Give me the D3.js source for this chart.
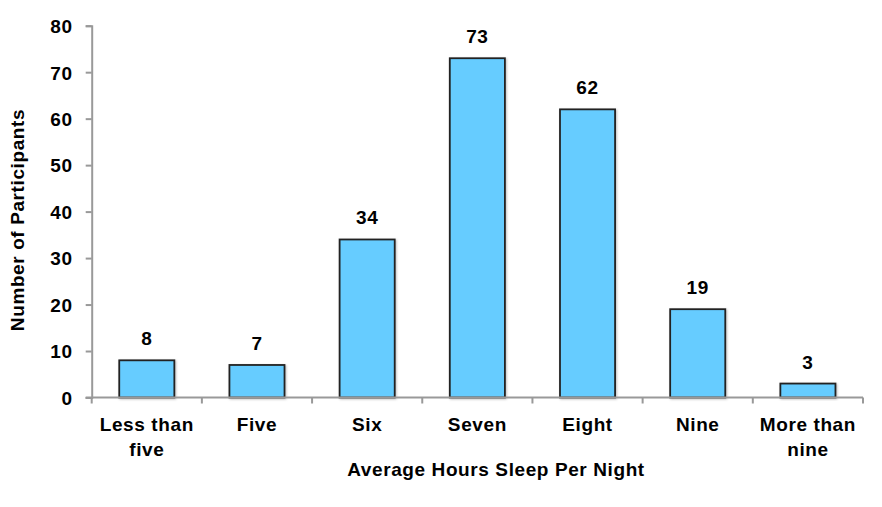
<!DOCTYPE html>
<html><head><meta charset="utf-8">
<script src="https://cdn.jsdelivr.net/npm/d3@7"></script>
<style>body{margin:0;background:#fff;} text{font-family:"Liberation Sans",Arial,sans-serif;font-weight:bold;fill:#000;letter-spacing:0.6px;}</style>
</head><body>
<svg id="c" width="882" height="507"></svg>
<script>
const categories = [["Less than","five"],["Five"],["Six"],["Seven"],["Eight"],["Nine"],["More than","nine"]];
const values = [8,7,34,73,62,19,3];
const yTicks = [0,10,20,30,40,50,60,70,80];
const xTitle = "Average Hours Sleep Per Night";
const yTitle = "Number of Participants";

(function(){
const svg = d3.select("#c");
const mLeft = 91.7, mRight = 863, mTop = 25.7, mBottom = 397.5;
const keys = categories.map((c,i)=>i);
const x = d3.scaleBand().domain(keys).range([mLeft,mRight]).paddingInner(0.5).paddingOuter(0.25);
const y = d3.scaleLinear().domain([0,80]).range([mBottom,mTop]);

const defs = svg.append("defs");
const f = defs.append("filter").attr("id","sh").attr("x","-20%").attr("y","-20%").attr("width","140%").attr("height","140%");
f.append("feDropShadow").attr("dx",1).attr("dy",1).attr("stdDeviation",1).attr("flood-color","#000").attr("flood-opacity",0.25);

svg.append("g").selectAll("rect").data(values).join("rect")
  .attr("x",(d,i)=>x(i)).attr("width",x.bandwidth())
  .attr("y",d=>y(d)).attr("height",d=>y(0)-y(d))
  .attr("fill","#66ccff").attr("stroke","#222").attr("stroke-width",1.8)
  .attr("filter","url(#sh)");

svg.append("g").selectAll("text").data(values).join("text")
  .attr("x",(d,i)=>x(i)+x.bandwidth()/2).attr("y",d=>y(d)-15)
  .attr("text-anchor","middle").attr("font-size",19).text(d=>d);

const ya = svg.append("g").attr("transform",`translate(${mLeft},0)`)
  .call(d3.axisLeft(y).tickValues(yTicks).tickSize(6).tickPadding(13));
ya.select(".domain").attr("stroke","#999").attr("stroke-width",2);
ya.selectAll(".tick line").attr("stroke","#999").attr("stroke-width",2);
ya.selectAll(".tick text").attr("font-size",19).attr("font-family","Liberation Sans, Arial, sans-serif").attr("font-weight","bold").attr("fill","#000").attr("dy","0.36em");

const xEdge = d3.scaleLinear().domain([0,categories.length]).range([mLeft,mRight]);
const xa = svg.append("g").attr("transform",`translate(0,${mBottom})`);
xa.append("line").attr("x1",mLeft-6).attr("x2",mRight).attr("stroke","#999").attr("stroke-width",2);
xa.selectAll("line.t").data(d3.range(categories.length+1)).join("line").attr("class","t")
  .attr("x1",d=>xEdge(d)).attr("x2",d=>xEdge(d)).attr("y1",0).attr("y2",6)
  .attr("stroke","#999").attr("stroke-width",2);
const lbl = xa.selectAll("text").data(categories).join("text")
  .attr("text-anchor","middle").attr("font-size",19)
  .attr("transform",(d,i)=>`translate(${x(i)+x.bandwidth()/2},33)`);
lbl.selectAll("tspan").data(d=>d).join("tspan").attr("x",0).attr("dy",(d,j)=>j?25:0).text(d=>d);

svg.append("text").attr("x",496).attr("y",476).attr("text-anchor","middle").attr("font-size",19).text(xTitle);
svg.append("text").attr("transform",`translate(24,220) rotate(-90)`).attr("text-anchor","middle").attr("font-size",19).text(yTitle);
})();
</script>
</body></html>
